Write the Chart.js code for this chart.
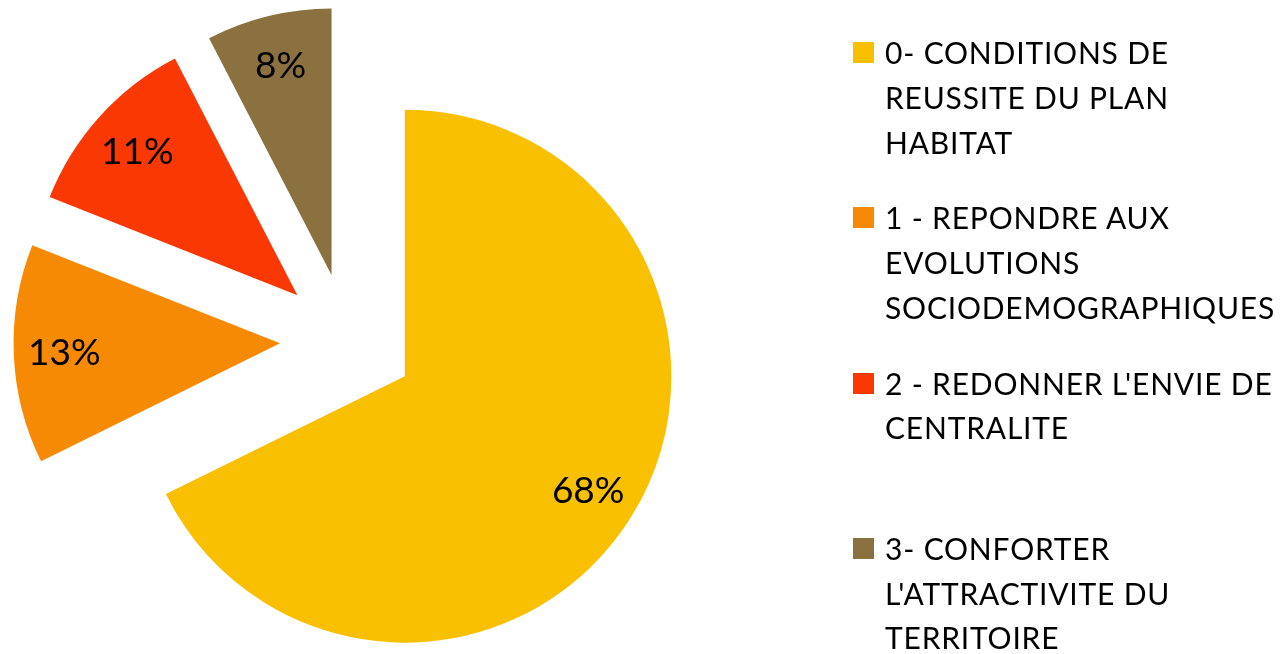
<!DOCTYPE html>
<html>
<head>
<meta charset="utf-8">
<script src="https://cdn.jsdelivr.net/npm/chart.js@4.4.0/dist/chart.umd.min.js"></script>
<style>
  html, body { margin: 0; padding: 0; background: #fff; }
  #wrap { position: relative; width: 1286px; height: 654px; overflow: hidden; }
  #pieChart { position: absolute; left: 0; top: 0; }
  #legend { position: absolute; left: 0; top: 0; font-family: Lato, sans-serif; font-size: 30px; letter-spacing: 0.8px; color: #000; }
  .item { position: absolute; left: 853px; white-space: nowrap; }
  .box { position: absolute; left: 0; top: 12px; width: 21px; height: 21px; }
  .txt { position: absolute; left: 32px; top: 0; line-height: 44.8px; }
</style>
</head>
<body>
<div id="wrap">
  <canvas id="pieChart" width="1286" height="654"></canvas>
  <div id="legend"></div>
</div>
<script>
// Categories (legend lines kept as in the original wrapping)
const categories = [
  ["0- CONDITIONS DE", "REUSSITE DU PLAN", "HABITAT"],
  ["1 - REPONDRE AUX", "EVOLUTIONS", "SOCIODEMOGRAPHIQUES"],
  ["2 - REDONNER L'ENVIE DE", "CENTRALITE"],
  ["3- CONFORTER", "L'ATTRACTIVITE DU", "TERRITOIRE"]
];
// Share of each axis (%)
const shares = [67.7, 13.3, 11.4, 7.6];
const percentLabels = ["68%", "13%", "11%", "8%"];
const sliceColors = ["#F8C000", "#F78A04", "#F93804", "#8B713F"];

// Chart.js grows the radius and trims the angle of exploded slices;
// undo both so every slice keeps the same radius and its full angle
const explodeFix = {
  id: "explodeFix",
  afterDatasetUpdate(chart, args) {
    const meta = chart.getDatasetMeta(args.index);
    const R = meta.controller.outerRadius;
    meta.data.forEach((arc) => {
      const shift = (arc.options.offset || 0) / 4;
      const circ = arc.endAngle - arc.startAngle;
      const fix = 1 - Math.sin(Math.min(Math.PI, circ));
      const grow = shift * fix;
      const trim = grow / (2 * Math.PI * R);
      arc.outerRadius = R - grow;
      arc.startAngle -= trim;
      arc.endAngle += trim;
    });
  }
};

// Percent labels inside the slices
const sliceLabels = {
  id: "sliceLabels",
  afterDatasetsDraw(chart) {
    const ctx = chart.ctx;
    const meta = chart.getDatasetMeta(0);
    const R = meta.controller.outerRadius;
    const size = 37;
    ctx.save();
    ctx.font = size + "px Lato";
    ctx.fillStyle = "#000";
    ctx.textAlign = "center";
    ctx.textBaseline = "alphabetic";
    meta.data.forEach((arc, i) => {
      const mid = (arc.startAngle + arc.endAngle) / 2;
      const d = (arc.options.offset || 0) / 4 + R * 0.81;
      const x = arc.x + Math.cos(mid) * d;
      const y = arc.y + Math.sin(mid) * d;
      ctx.fillText(percentLabels[i], x, y + size * 0.7165 / 2);
    });
    ctx.restore();
  }
};

const ctx = document.getElementById("pieChart").getContext("2d");
const pieChart = new Chart(ctx, {
  type: "pie",
  data: {
    labels: categories.map((c) => c.join(" ")),
    datasets: [
      {
        data: shares,
        backgroundColor: sliceColors,
        borderWidth: 0,
        offset: 270
      }
    ]
  },
  options: {
    responsive: false,
    animation: false,
    radius: 266.5,
    layout: { padding: { left: 0, right: 591, top: 27, bottom: 0 } },
    plugins: {
      legend: { display: false },
      tooltip: { enabled: false }
    }
  },
  plugins: [explodeFix, sliceLabels]
});

// HTML legend on the right, one entry every 165px like the original
const legend = document.getElementById("legend");
categories.forEach((lines, i) => {
  const item = document.createElement("div");
  item.className = "item";
  item.style.top = (30 + i * 165.3) + "px";
  const box = document.createElement("div");
  box.className = "box";
  box.style.background = sliceColors[i];
  const txt = document.createElement("div");
  txt.className = "txt";
  txt.innerHTML = lines.join("<br>");
  item.appendChild(box);
  item.appendChild(txt);
  legend.appendChild(item);
});
</script>
</body>
</html>
